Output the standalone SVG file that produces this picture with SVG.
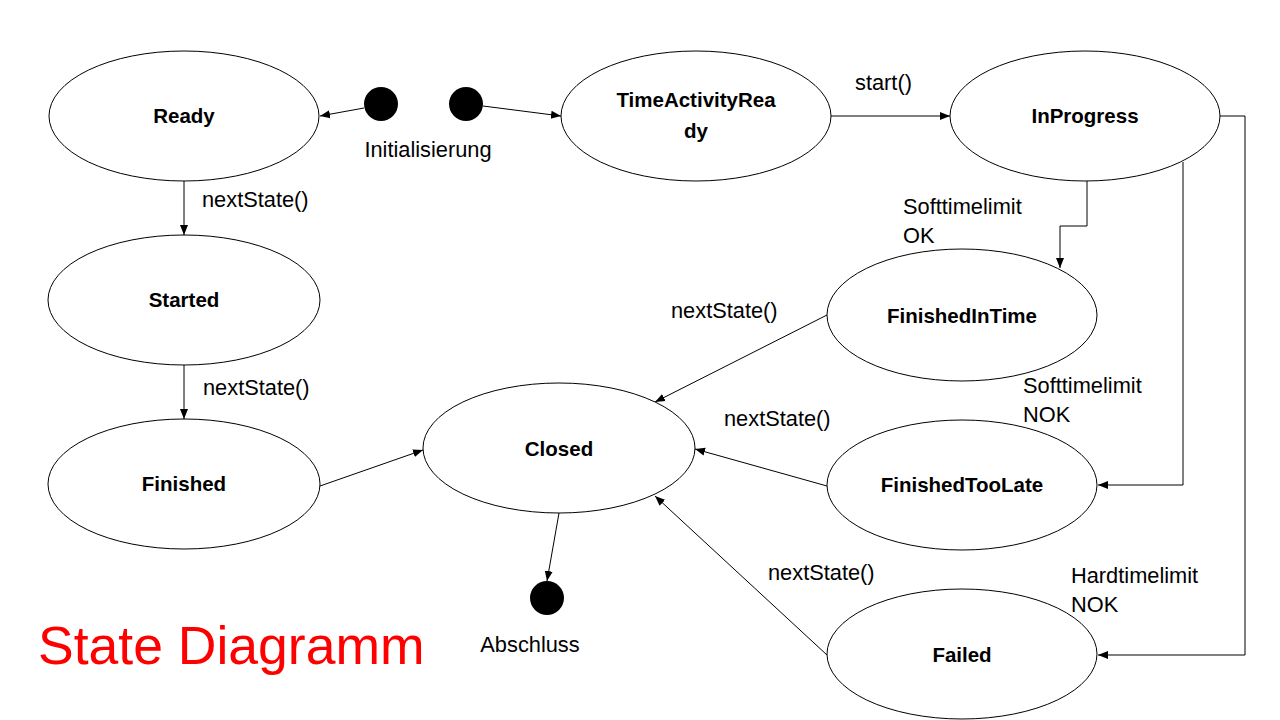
<svg xmlns="http://www.w3.org/2000/svg" width="1280" height="720" viewBox="0 0 1280 720">
<style>
.st{fill:#fff;stroke:#000;stroke-width:1}
.t{font-family:"Liberation Sans",Arial,sans-serif;font-weight:bold;font-size:20.5px;text-anchor:middle;fill:#000}
.l{font-family:"Liberation Sans",Arial,sans-serif;font-size:21.8px;fill:#000}
.c{fill:none;stroke:#000;stroke-width:1;marker-end:url(#a)}
</style>
<defs>
<marker id="a" viewBox="0 0 10 10" refX="10" refY="5" markerWidth="10" markerHeight="10" markerUnits="userSpaceOnUse" orient="auto">
<path d="M0,1 L10,5 L0,9 Z" fill="#000"/>
</marker>
</defs>
<rect width="1280" height="720" fill="#fff"/>
<g id="connectors">
<line class="c" x1="364" y1="108" x2="320" y2="116"/>
<line class="c" x1="483" y1="106" x2="561" y2="116"/>
<line class="c" x1="831" y1="116" x2="950" y2="116"/>
<line class="c" x1="184" y1="181" x2="184" y2="235"/>
<line class="c" x1="184" y1="365" x2="184" y2="419"/>
<line class="c" x1="320" y1="486" x2="423" y2="450"/>
<polyline class="c" points="1087,181 1087,226 1060,226 1060,268"/>
<polyline class="c" points="1183,162 1183,485 1098,485"/>
<polyline class="c" points="1220,116 1245,116 1245,655 1098,655"/>
<line class="c" x1="827" y1="315" x2="655" y2="402"/>
<line class="c" x1="827" y1="486" x2="695" y2="449"/>
<line class="c" x1="827" y1="655" x2="655" y2="496"/>
<line class="c" x1="559" y1="513" x2="547" y2="581"/>
<text class="l" x="855" y="90">start()</text>
<text class="l" x="202" y="207">nextState()</text>
<text class="l" x="203" y="395">nextState()</text>
<text class="l" x="671" y="318">nextState()</text>
<text class="l" x="724" y="426">nextState()</text>
<text class="l" x="768" y="580">nextState()</text>
<text class="l" x="903" y="214">Softtimelimit</text>
<text class="l" x="903" y="243">OK</text>
<text class="l" x="1023" y="393">Softtimelimit</text>
<text class="l" x="1023" y="422">NOK</text>
<text class="l" x="1071" y="583">Hardtimelimit</text>
<text class="l" x="1071" y="612">NOK</text>
</g>
<g id="init1"><circle cx="381" cy="104" r="17" fill="#000"/></g>
<g id="init2"><circle cx="466" cy="104" r="17" fill="#000"/></g>
<text class="l" x="428" y="157" text-anchor="middle">Initialisierung</text>
<g id="ready"><ellipse class="st" cx="184" cy="116" rx="135" ry="65"/><text class="t" x="184" y="123">Ready</text></g>
<g id="started"><ellipse class="st" cx="184" cy="300" rx="136" ry="65"/><text class="t" x="184" y="307">Started</text></g>
<g id="finished"><ellipse class="st" cx="184" cy="484" rx="136" ry="65"/><text class="t" x="184" y="491">Finished</text></g>
<g id="timeActivityReady"><ellipse class="st" cx="696" cy="116" rx="135" ry="65"/><text class="t" x="696" y="107">TimeActivityRea</text><text class="t" x="696" y="138">dy</text></g>
<g id="inProgress"><ellipse class="st" cx="1085" cy="116" rx="135" ry="65"/><text class="t" x="1085" y="123">InProgress</text></g>
<g id="finishedInTime"><ellipse class="st" cx="962" cy="315" rx="135" ry="66"/><text class="t" x="962" y="323">FinishedInTime</text></g>
<g id="closed"><ellipse class="st" cx="559" cy="448" rx="136" ry="65"/><text class="t" x="559" y="456">Closed</text></g>
<g id="finishedTooLate"><ellipse class="st" cx="962" cy="485" rx="135" ry="65"/><text class="t" x="962" y="492">FinishedTooLate</text></g>
<g id="failed"><ellipse class="st" cx="962" cy="654" rx="135" ry="65"/><text class="t" x="962" y="662">Failed</text></g>
<g id="final"><circle cx="547" cy="598" r="17" fill="#000"/></g>
<text class="l" x="530" y="652" text-anchor="middle">Abschluss</text>
<text x="38" y="664" font-family="'Liberation Sans',Arial,sans-serif" font-size="53.5" fill="#ff0000">State Diagramm</text>
</svg>
